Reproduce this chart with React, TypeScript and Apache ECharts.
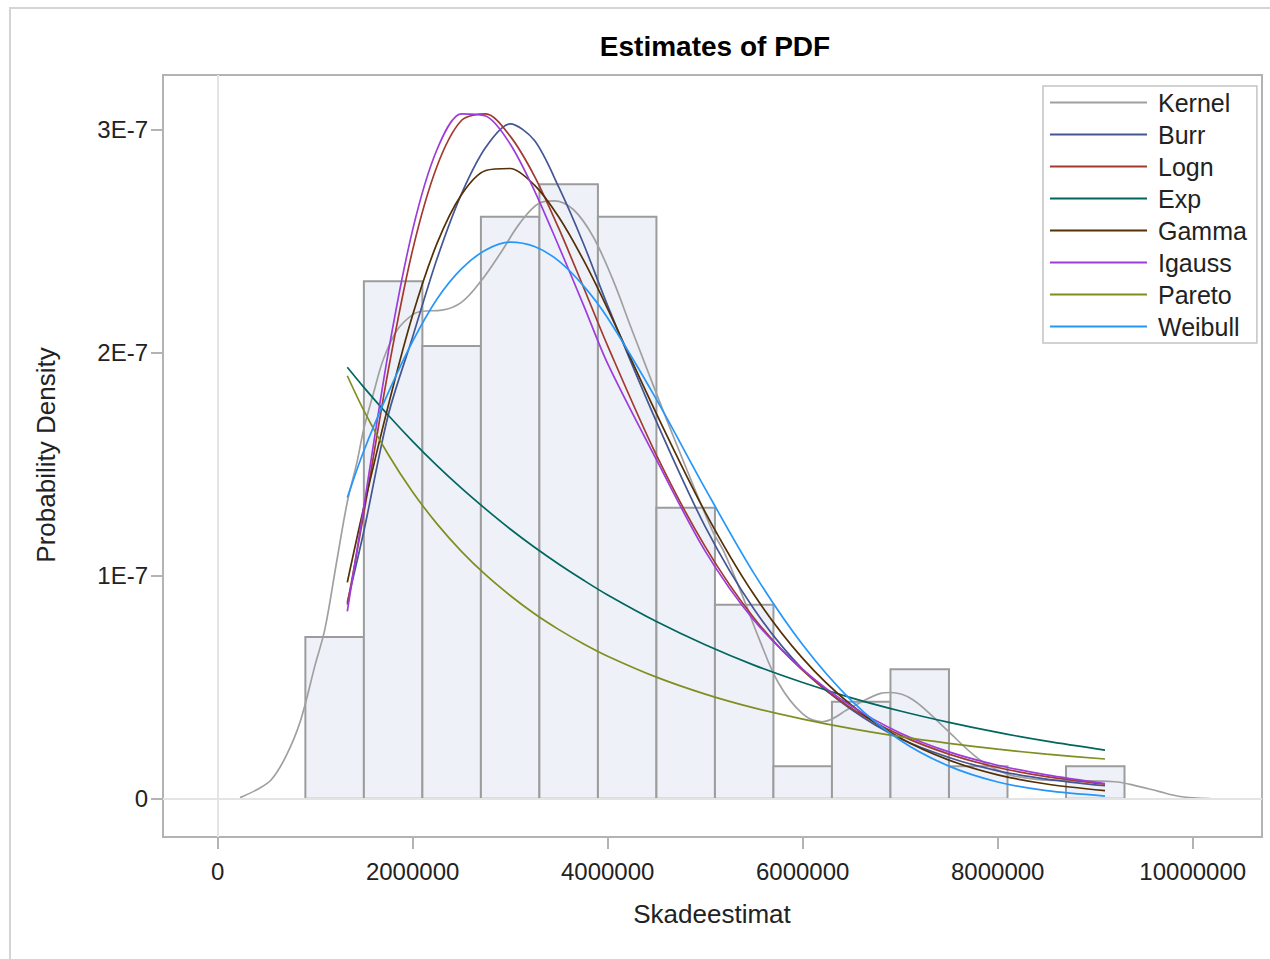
import React, { useEffect, useRef } from "react";
import * as echarts from "echarts";

// ---- data (x in Skadeestimat units, densities in units of 1E-7) ----
const X_TICKS = [0, 2000000, 4000000, 6000000, 8000000, 10000000];
const Y_TICKS = [0, 1, 2, 3];

const BIN_EDGES = [900000, 1500000, 2100000, 2700000, 3300000, 3900000, 4500000, 5100000, 5700000, 6300000, 6900000, 7500000, 8100000, 8700000, 9300000];
const HIST = [0.725, 2.319, 2.029, 2.609, 2.754, 2.609, 1.304, 0.870, 0.145, 0.435, 0.580, 0.145, 0, 0.145];

const FIT_X = [1330000, 1500000, 1750000, 2000000, 2250000, 2500000, 2750000, 3000000, 3250000, 3500000, 3750000, 4000000, 4500000, 5000000, 5500000, 6000000, 6500000, 7000000, 7500000, 8000000, 8500000, 9100000];
const BURR = [0.88, 1.20, 1.72, 2.07, 2.42, 2.71, 2.92, 3.025, 2.95, 2.74, 2.49, 2.21, 1.69, 1.22, 0.85, 0.58, 0.40, 0.27, 0.185, 0.125, 0.088, 0.058];
const LOGN = [0.87, 1.28, 1.92, 2.46, 2.835, 3.04, 3.07, 2.97, 2.79, 2.555, 2.295, 2.03, 1.54, 1.13, 0.81, 0.575, 0.405, 0.285, 0.20, 0.14, 0.099, 0.065];
const EXPO = [1.934, 1.844, 1.719, 1.602, 1.493, 1.392, 1.298, 1.209, 1.127, 1.051, 0.980, 0.913, 0.794, 0.690, 0.599, 0.521, 0.452, 0.393, 0.342, 0.297, 0.258, 0.218];
const GAMMA = [0.97, 1.308, 1.762, 2.168, 2.489, 2.707, 2.816, 2.825, 2.750, 2.606, 2.416, 2.196, 1.726, 1.285, 0.915, 0.629, 0.419, 0.272, 0.173, 0.107, 0.066, 0.036];
const IGAUSS = [0.84, 1.31, 2.00, 2.55, 2.91, 3.07, 3.06, 2.935, 2.725, 2.475, 2.215, 1.95, 1.52, 1.11, 0.80, 0.58, 0.415, 0.295, 0.21, 0.15, 0.107, 0.068];
const PARETO = [1.896, 1.740, 1.543, 1.375, 1.232, 1.109, 1.003, 0.911, 0.829, 0.758, 0.695, 0.639, 0.545, 0.469, 0.407, 0.357, 0.314, 0.278, 0.248, 0.222, 0.200, 0.178];
const WEIBULL = [1.35, 1.56, 1.82, 2.05, 2.24, 2.375, 2.46, 2.495, 2.475, 2.41, 2.30, 2.155, 1.79, 1.39, 1.01, 0.69, 0.44, 0.262, 0.146, 0.075, 0.036, 0.012];

const KERNEL_X = [230000, 400000, 550000, 700000, 850000, 1000000, 1100000, 1220000, 1330000, 1430000, 1500000, 1600000, 1700000, 1840000, 2000000, 2100000, 2300000, 2500000, 2700000, 2900000, 3100000, 3300000, 3450000, 3650000, 3850000, 4050000, 4250000, 4650000, 5070000, 5200000, 5400000, 5550000, 5750000, 6000000, 6200000, 6500000, 6800000, 6900000, 7130000, 7450000, 7800000, 8100000, 8400000, 8700000, 9200000, 9400000, 9650000, 9870000, 10180000];
const KERNEL = [0.005, 0.04, 0.085, 0.19, 0.35, 0.60, 0.76, 1.06, 1.33, 1.51, 1.66, 1.82, 1.97, 2.10, 2.17, 2.185, 2.19, 2.225, 2.32, 2.445, 2.58, 2.67, 2.68, 2.64, 2.52, 2.33, 2.10, 1.65, 1.205, 1.10, 0.89, 0.72, 0.52, 0.38, 0.345, 0.41, 0.472, 0.476, 0.444, 0.32, 0.18, 0.11, 0.087, 0.081, 0.076, 0.06, 0.033, 0.01, 0.0];

const LEGEND_ORDER = ["Kernel", "Burr", "Logn", "Exp", "Gamma", "Igauss", "Pareto", "Weibull"];
const COLORS: Record<string, string> = {
  Kernel: "#a0a0a0",
  Burr: "#445694",
  Logn: "#a23a2e",
  Exp: "#01665e",
  Gamma: "#543005",
  Igauss: "#9d3cdb",
  Pareto: "#7f8e1f",
  Weibull: "#2597fa",
};

const FONT = '"Liberation Sans", Arial, sans-serif';

export default function App() {
  const ref = useRef<HTMLDivElement>(null);

  useEffect(() => {
    if (!ref.current) return;
    const chart = echarts.init(ref.current, null, { renderer: "svg" });

    const fit = (name: string, vals: number[]) => ({
      name,
      type: "line",
      data: FIT_X.map((x, i) => [x, vals[i]]),
      showSymbol: false,
      symbol: "none",
      smooth: 0.3,
      silent: true,
      z: 3,
      lineStyle: { color: COLORS[name], width: 1.7 },
      itemStyle: { color: COLORS[name] },
    });

    const bins = HIST.map((h, i) => [BIN_EDGES[i], BIN_EDGES[i + 1], h]);

    chart.setOption({
      animation: false,
      grid: {
        left: 163,
        right: 8,
        top: 75,
        bottom: 122,
        show: true,
        borderColor: "#b3b3b3",
        borderWidth: 2,
        backgroundColor: "transparent",
      },
      xAxis: {
        type: "value",
        min: -560000,
        max: 10710000,
        axisLine: { show: true, onZero: false, lineStyle: { color: "#b3b3b3", width: 2 } },
        axisTick: { show: true, length: 12, customValues: X_TICKS, lineStyle: { color: "#b3b3b3", width: 2 } },
        axisLabel: {
          customValues: X_TICKS,
          formatter: (v: number) => String(v),
          color: "#222",
          fontSize: 24,
          fontFamily: FONT,
          margin: 22,
        },
        splitLine: { show: false },
      },
      yAxis: {
        type: "value",
        min: -0.1716,
        max: 3.244,
        axisLine: { show: true, onZero: false, lineStyle: { color: "#b3b3b3", width: 2 } },
        axisTick: { show: true, length: 12, customValues: Y_TICKS, lineStyle: { color: "#b3b3b3", width: 2 } },
        axisLabel: {
          customValues: Y_TICKS,
          formatter: (v: number) => (v === 0 ? "0" : v + "E-7"),
          color: "#222",
          fontSize: 24,
          fontFamily: FONT,
          margin: 15,
        },
        splitLine: { show: false },
      },
      legend: {
        orient: "vertical",
        left: 1043,
        top: 86,
        data: LEGEND_ORDER,
        icon: "rect",
        itemWidth: 97,
        itemHeight: 2,
        itemGap: 7,
        padding: [4, 10, 4, 7],
        borderColor: "#c4c4c4",
        borderWidth: 1.5,
        backgroundColor: "#fff",
        selectedMode: false,
        textStyle: { fontSize: 25, lineHeight: 25, color: "#222", fontFamily: FONT, padding: [0, 0, 0, 6] },
      },
      graphic: [
        {
          type: "rect",
          silent: true,
          z: -10,
          shape: { x: 10, y: 8, width: 1300, height: 1000 },
          style: { fill: "none", stroke: "#d4d4d4", lineWidth: 2 },
        },
        {
          type: "text",
          x: 715,
          y: 46,
          silent: true,
          style: { text: "Estimates of PDF", fontSize: 28, fontWeight: "bold", fontFamily: FONT, fill: "#000", align: "center", verticalAlign: "middle" },
        },
        {
          type: "text",
          x: 712,
          y: 914,
          silent: true,
          style: { text: "Skadeestimat", fontSize: 26, fontFamily: FONT, fill: "#222", align: "center", verticalAlign: "middle" },
        },
        {
          type: "text",
          x: 46,
          y: 455,
          rotation: Math.PI / 2,
          silent: true,
          style: { text: "Probability Density", fontSize: 26, fontFamily: FONT, fill: "#222", align: "center", verticalAlign: "middle" },
        },
      ],
      series: [
        {
          name: "Histogram",
          type: "custom",
          data: bins,
          encode: { x: [0, 1], y: 2 },
          silent: true,
          z: 1,
          renderItem: (_params: any, api: any) => {
            const x0 = api.value(0);
            const x1 = api.value(1);
            const h = api.value(2);
            if (!h) return null;
            const p0 = api.coord([x0, h]);
            const p1 = api.coord([x1, 0]);
            return {
              type: "rect",
              shape: { x: p0[0], y: p0[1], width: p1[0] - p0[0], height: p1[1] - p0[1] },
              style: { fill: "#eef2f8", stroke: "#9c9c9c", lineWidth: 2 },
            };
          },
          markLine: {
            silent: true,
            symbol: ["none", "none"],
            label: { show: false },
            lineStyle: { color: "#e4e4e4", width: 2, type: "solid" },
            data: [{ xAxis: 0 }, { yAxis: 0 }],
          },
        },
        {
          name: "Kernel",
          type: "line",
          data: KERNEL_X.map((x, i) => [x, KERNEL[i]]),
          showSymbol: false,
          symbol: "none",
          smooth: 0.35,
          silent: true,
          z: 2,
          lineStyle: { color: COLORS.Kernel, width: 1.7 },
          itemStyle: { color: COLORS.Kernel },
        },
        fit("Burr", BURR),
        fit("Logn", LOGN),
        fit("Exp", EXPO),
        fit("Gamma", GAMMA),
        fit("Igauss", IGAUSS),
        fit("Pareto", PARETO),
        fit("Weibull", WEIBULL),
      ],
    });

    return () => chart.dispose();
  }, []);

  return <div ref={ref} style={{ position: "absolute", left: 0, top: 0, width: 1270, height: 959 }} />;
}
